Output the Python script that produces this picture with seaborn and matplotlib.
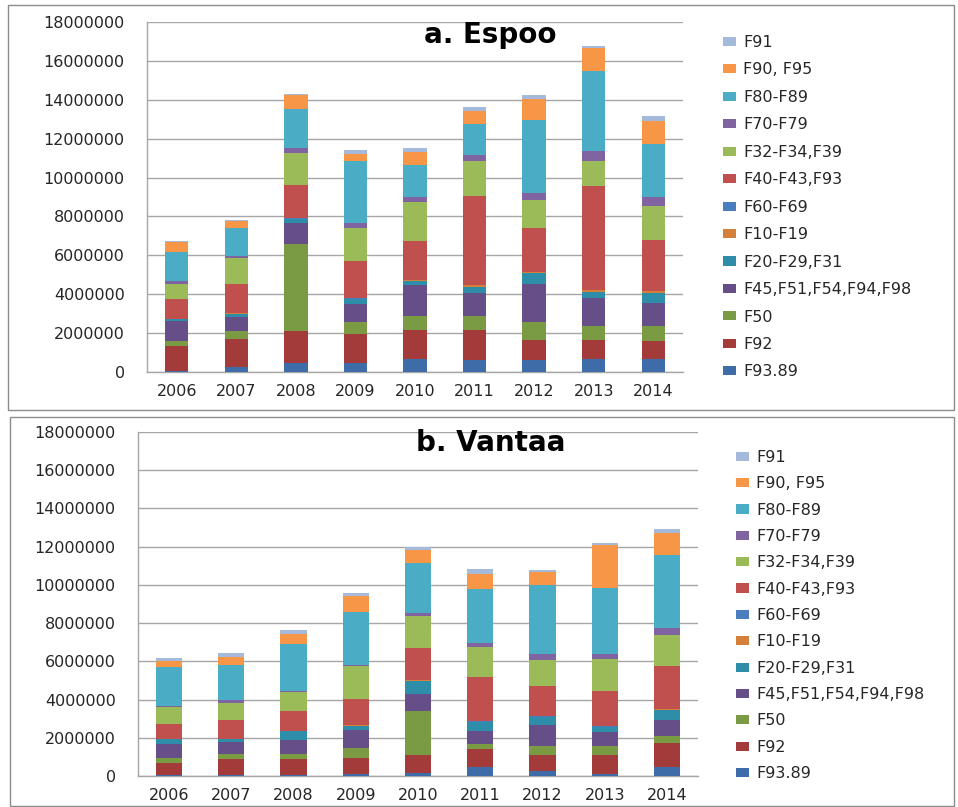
import numpy as np
import matplotlib
matplotlib.use("Agg")
import matplotlib.pyplot as plt
import seaborn as sns
from matplotlib.patches import Patch, Rectangle
from matplotlib.ticker import StrMethodFormatter, FixedLocator

# ---------------------------------------------------------------- data
years = ["2006", "2007", "2008", "2009", "2010", "2011", "2012", "2013", "2014"]

# stacking order, bottom to top
series_labels = ["F93.89", "F92", "F50", "F45,F51,F54,F94,F98", "F20-F29,F31",
                 "F10-F19", "F60-F69", "F40-F43,F93", "F32-F34,F39", "F70-F79",
                 "F80-F89", "F90, F95", "F91"]
series_colors = ["#3E6CA9", "#A23B3A", "#7B9A44", "#664E88", "#2E8EA9",
                 "#D4803A", "#4A7EBF", "#C0504D", "#9BBB59", "#8064A2",
                 "#4BACC6", "#F79646", "#A5B9DA"]

# Espoo
espoo_f93_89 = [50000, 240000, 480000, 480000, 690000, 600000, 600000, 690000, 690000]
espoo_f92 = [1290000, 1480000, 1610000, 1480000, 1490000, 1550000, 1070000, 980000, 910000]
espoo_f50 = [260000, 370000, 4500000, 600000, 700000, 730000, 910000, 680000, 750000]
espoo_f45 = [1030000, 730000, 1080000, 960000, 1580000, 1190000, 1940000, 1480000, 1200000]
espoo_f20 = [70000, 180000, 190000, 210000, 210000, 290000, 580000, 290000, 520000]
espoo_f10 = [30000, 20000, 30000, 30000, 50000, 100000, 30000, 90000, 70000]
espoo_f60 = [20000, 20000, 30000, 20000, 30000, 30000, 20000, 30000, 30000]
espoo_f40 = [990000, 1480000, 1690000, 1950000, 2000000, 4560000, 2280000, 5340000, 2630000]
espoo_f32 = [780000, 1320000, 1630000, 1670000, 1970000, 1780000, 1390000, 1250000, 1730000]
espoo_f70 = [150000, 150000, 300000, 240000, 290000, 330000, 380000, 530000, 480000]
espoo_f80 = [1480000, 1390000, 2010000, 3190000, 1650000, 1610000, 3780000, 4120000, 2700000]
espoo_f90 = [510000, 380000, 680000, 360000, 650000, 640000, 1060000, 1160000, 1220000]
espoo_f91 = [70000, 50000, 50000, 210000, 190000, 220000, 210000, 100000, 240000]

# Vantaa
vantaa_f93_89 = [50000, 50000, 50000, 100000, 140000, 450000, 280000, 120000, 450000]
vantaa_f92 = [630000, 860000, 820000, 860000, 980000, 950000, 840000, 1000000, 1280000]
vantaa_f50 = [280000, 260000, 270000, 490000, 2290000, 260000, 450000, 450000, 350000]
vantaa_f45 = [720000, 630000, 730000, 960000, 870000, 680000, 1100000, 740000, 840000]
vantaa_f20 = [230000, 110000, 460000, 230000, 700000, 490000, 410000, 240000, 540000]
vantaa_f10 = [20000, 20000, 20000, 20000, 30000, 20000, 20000, 30000, 20000]
vantaa_f60 = [20000, 20000, 20000, 20000, 20000, 20000, 20000, 20000, 20000]
vantaa_f40 = [780000, 970000, 1040000, 1360000, 1650000, 2300000, 1570000, 1860000, 2230000]
vantaa_f32 = [870000, 910000, 960000, 1690000, 1690000, 1560000, 1380000, 1680000, 1630000]
vantaa_f70 = [50000, 170000, 90000, 90000, 180000, 210000, 330000, 260000, 380000]
vantaa_f80 = [2050000, 1790000, 2450000, 2780000, 2590000, 2870000, 3620000, 3460000, 3850000]
vantaa_f90 = [310000, 430000, 540000, 820000, 710000, 750000, 680000, 2240000, 1100000]
vantaa_f91 = [160000, 230000, 170000, 130000, 140000, 280000, 100000, 70000, 230000]

espoo_layers = [espoo_f93_89, espoo_f92, espoo_f50, espoo_f45, espoo_f20, espoo_f10,
                espoo_f60, espoo_f40, espoo_f32, espoo_f70, espoo_f80, espoo_f90, espoo_f91]
vantaa_layers = [vantaa_f93_89, vantaa_f92, vantaa_f50, vantaa_f45, vantaa_f20, vantaa_f10,
                 vantaa_f60, vantaa_f40, vantaa_f32, vantaa_f70, vantaa_f80, vantaa_f90, vantaa_f91]

y_ticks = [0, 2000000, 4000000, 6000000, 8000000, 10000000, 12000000, 14000000, 16000000, 18000000]

# ---------------------------------------------------------------- style
sns.set_style("white")
plt.rcParams["font.family"] = ["DejaVu Sans"]

W, H = 958, 807
fig = plt.figure(figsize=(W / 100, H / 100), dpi=100)

GRID = "#A6A6A6"
TEXT = "#262626"


def px_rect(x0, y0, x1, y1):
    """figure-fraction rectangle from pixel corners (origin top-left)"""
    return [x0 / W, 1 - y1 / H, (x1 - x0) / W, (y1 - y0) / H]


def draw_panel(ax, layers, title, title_xy, bar_width, legend_xy, labelspacing):
    cum = np.cumsum(np.array(layers, dtype=float), axis=0)
    # draw the running totals from the top layer down so each lower layer sits over it
    for i in range(len(layers) - 1, -1, -1):
        sns.barplot(x=years, y=cum[i], order=years, color=series_colors[i],
                    saturation=1, width=bar_width, linewidth=0, ax=ax, zorder=3)

    ax.set_ylim(0, 18000000)
    ax.set_xlim(-0.5, len(years) - 0.5)
    ax.set_yticks(y_ticks)
    ax.yaxis.set_major_formatter(StrMethodFormatter("{x:.0f}"))
    ax.set_xlabel("")
    ax.set_ylabel("")

    ax.yaxis.grid(True, color=GRID, linewidth=1, zorder=0)
    ax.xaxis.grid(False)
    ax.set_axisbelow(True)
    for side in ("top", "right"):
        ax.spines[side].set_visible(False)
    for side in ("left", "bottom"):
        ax.spines[side].set_color(GRID)
        ax.spines[side].set_linewidth(1)

    ax.tick_params(axis="y", which="major", direction="out", length=7, width=1,
                   color=GRID, labelsize=11.5, labelcolor=TEXT, pad=9)
    ax.tick_params(axis="x", which="major", length=0, labelsize=11.5,
                   labelcolor=TEXT, pad=9)
    ax.xaxis.set_minor_locator(FixedLocator(np.arange(-0.5, len(years), 1.0)))
    ax.tick_params(axis="x", which="minor", direction="out", length=5, width=1,
                   color=GRID)

    ax.text(title_xy[0], title_xy[1], title, transform=ax.transAxes,
            ha="center", va="center", fontsize=20, fontweight="bold", color="black")

    handles = [Patch(facecolor=series_colors[i], edgecolor="none")
               for i in range(len(series_labels) - 1, -1, -1)]
    labels = [series_labels[i] for i in range(len(series_labels) - 1, -1, -1)]
    ax.legend(handles, labels, loc="upper left",
              bbox_to_anchor=(legend_xy[0] / W, 1 - legend_xy[1] / H),
              bbox_transform=fig.transFigure, frameon=False, fontsize=11.5,
              handlelength=0.8, handleheight=0.5, handletextpad=0.45,
              labelspacing=labelspacing, borderpad=0, borderaxespad=0,
              labelcolor=TEXT)


ax_top = fig.add_axes(px_rect(147, 22, 683, 372))
draw_panel(ax_top, espoo_layers, "a. Espoo", (0.64, 0.963), 0.39,
           (723, 35), 0.78)

ax_bot = fig.add_axes(px_rect(138, 432, 698, 776))
draw_panel(ax_bot, vantaa_layers, "b. Vantaa", (0.629, 0.968), 0.42,
           (736, 450), 0.71)

# chart frames
for (x0, y0, x1, y1) in [(8, 5, 954, 410), (10, 417, 954, 806)]:
    l, b, w, h = px_rect(x0, y0, x1, y1)
    fig.add_artist(Rectangle((l, b), w, h, transform=fig.transFigure,
                             fill=False, edgecolor="#8C8C8C", linewidth=1))

fig.savefig("out.png", dpi=100, facecolor="white")
